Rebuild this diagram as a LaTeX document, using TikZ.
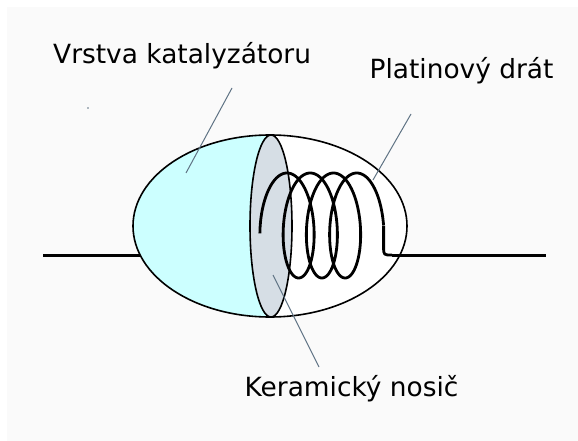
\documentclass[tikz,border=0pt]{standalone}
\usepackage{fontspec}
\setmainfont{DejaVu Sans}
\definecolor{catcyan}{HTML}{CCFFFF}
\definecolor{carriergray}{HTML}{D6DEE5}
\definecolor{leadergray}{HTML}{5F7384}
\definecolor{paper}{HTML}{FAFAFA}
\begin{document}
\begin{tikzpicture}[x=1pt,y=-1pt,
  labeltext/.style={font=\fontsize{26.4}{30}\selectfont, inner sep=0pt, anchor=base west},
  leader/.style={draw=leadergray, line width=1pt},
  shell/.style={draw=black, line width=1.6pt},
  wire/.style={draw=black, line width=3pt},
  coil/.style={draw=black, line width=2.8pt, line join=round}]

\useasboundingbox (0,0) rectangle (578,441);
\fill[white] (0,0) rectangle (578,441);
\fill[paper] (7,7) rectangle (578,441);

% key points of the sensor body
\coordinate (body) at (270,226);
\coordinate (carrier) at (271,226);
\coordinate (wireL) at (43,255);
\coordinate (shellL) at (141,255);
\coordinate (coilEnd) at (383.6,225.5);
\coordinate (tailLow) at (383.6,247);
\coordinate (tailBend) at (383.6,255);
\coordinate (tailOut) at (392,255);
\coordinate (wireR) at (546,255);

% lead wire on the left
\draw[wire] (wireL) -- (shellL);

% bead: catalyst layer on the left half, bare on the right
\fill[white] (body) ellipse [x radius=137, y radius=91];
\begin{scope}
  \clip (body) ellipse [x radius=137, y radius=91];
  \fill[catcyan] (120,120) rectangle (271,330);
\end{scope}

% ceramic carrier cross-section
\filldraw[fill=carriergray, shell] (carrier) ellipse [x radius=21, y radius=91];

% outline of the bead
\draw[shell] (body) ellipse [x radius=137, y radius=91];

% platinum coil (helix seen from the side)
\draw[coil] plot[domain=-0.15:7*pi, samples=400, variable=\t, smooth]
  ({281.2 + 3.7*\t - 21*cos(\t r)}, {225.5 - 52.5*sin(\t r)});
\draw[coil] (coilEnd) -- (tailLow) .. controls (tailBend) .. (tailOut);
\draw[wire] (tailOut) -- (wireR);

% labels
\node[labeltext] (vrstva) at (53,63.3) {Vrstva katalyzátoru};
\node[labeltext] (platina) at (369.5,79) {Platinový drát};
\node[labeltext] (keramika) at (244.5,396.7) {Keramický nosič};

% leader lines
\coordinate (vrstvaA) at (232,88);
\coordinate (vrstvaB) at (186,173);
\coordinate (platinaA) at (411,114);
\coordinate (platinaB) at (373,180);
\coordinate (keramikaA) at (319,367);
\coordinate (keramikaB) at (273,275);
\draw[leader] (vrstvaA) -- (vrstvaB);
\draw[leader] (platinaA) -- (platinaB);
\draw[leader] (keramikaA) -- (keramikaB);

% small speck
\fill[leadergray] (88,108) circle (0.8);
\end{tikzpicture}
\end{document}
